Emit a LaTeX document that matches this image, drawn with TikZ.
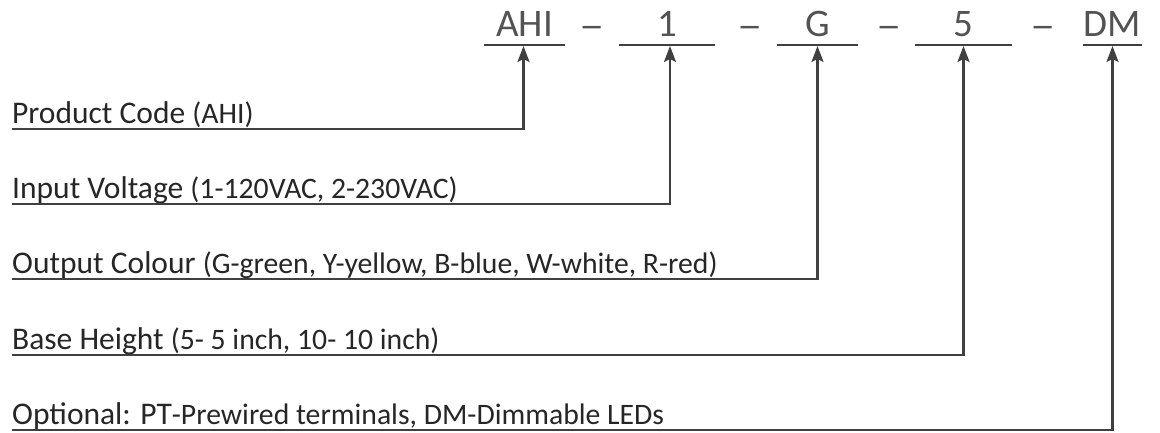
\documentclass[tikz,border=0pt]{standalone}
\usepackage{fontspec}
\setmainfont{Carlito}
\usetikzlibrary{arrows.meta, positioning}
\definecolor{inkgray}{HTML}{404040}
\definecolor{textgray}{HTML}{262626}
\newcommand{\paren}[1]{{\fontsize{29.7}{34}\selectfont #1}}

\begin{document}
\begin{tikzpicture}[x=1pt, y=-1pt, inkgray,
    codeslot/.style={anchor=south, inner sep=0pt, text depth=7pt, minimum height=34pt,
        font=\fontsize{39}{44}\selectfont, text=inkgray!90},
    codedash/.style={anchor=base, inner sep=0pt, font=\fontsize{39}{44}\selectfont, text=inkgray!90},
    fieldtext/.style={anchor=base west, inner sep=0pt, font=\fontsize{31.5}{36}\selectfont, text=textgray},
    uline/.style={line width=2.2pt},
    link/.style={line width=2.2pt, -{Stealth[length=16pt, width=12pt, inset=3pt]}, shorten >=1pt}]
    \useasboundingbox (0,0) rectangle (1160,432);

    % part number slots
    \node[codeslot, minimum width=81pt] (ahi) at (524.5,45) {AHI};
    \node[codeslot, minimum width=96pt] (volt) at (667,45) {1};
    \node[codeslot, minimum width=81pt] (col) at (817.5,45) {G};
    \node[codeslot, minimum width=97pt] (base) at (963.5,45) {5};
    \node[codeslot, minimum width=59pt] (opt) at (1112.5,45) {DM};
    \node[codedash] (d1) at (592,38) {\scalebox{1.3}[1]{–}};
    \node[codedash] (d2) at (750,38) {\scalebox{1.3}[1]{–}};
    \node[codedash] (d3) at (889,38) {\scalebox{1.3}[1]{–}};
    \node[codedash] (d4) at (1043,38) {\scalebox{1.3}[1]{–}};
    \draw[uline] (ahi.south west) -- (ahi.south east);
    \draw[uline] (volt.south west) -- (volt.south east);
    \draw[uline] (col.south west) -- (col.south east);
    \draw[uline] (base.south west) -- (base.south east);
    \draw[uline] (opt.south west) -- (opt.south east);

    % field descriptions
    \node[fieldtext] (prod) at (12,123) {Product Code \paren{(AHI)}};
    \node[fieldtext] (input) at (12,198) {Input Voltage \paren{(1-120VAC, 2-230VAC)}};
    \node[fieldtext] (output) at (12,273) {Output Colour \paren{(G-green, Y-yellow, B-blue, W-white, R-red)}};
    \node[fieldtext] (height) at (12,349) {Base Height \paren{(5- 5 inch, 10- 10 inch)}};
    \node[fieldtext] (extra) at (12,424) {Optional: PT\paren{-Prewired terminals, DM-Dimmable LEDs}};

    \draw[link] ([yshift=-6pt]prod.base west) -| ([xshift=-1pt]ahi.south);
    \draw[link] ([yshift=-6pt]input.base west) -| ([xshift=3pt]volt.south);
    \draw[link] ([yshift=-6pt]output.base west) -| (col.south);
    \draw[link] ([yshift=-6pt]height.base west) -| (base.south);
    \draw[link] ([yshift=-6pt]extra.base west) -| (opt.south);
\end{tikzpicture}
\end{document}
